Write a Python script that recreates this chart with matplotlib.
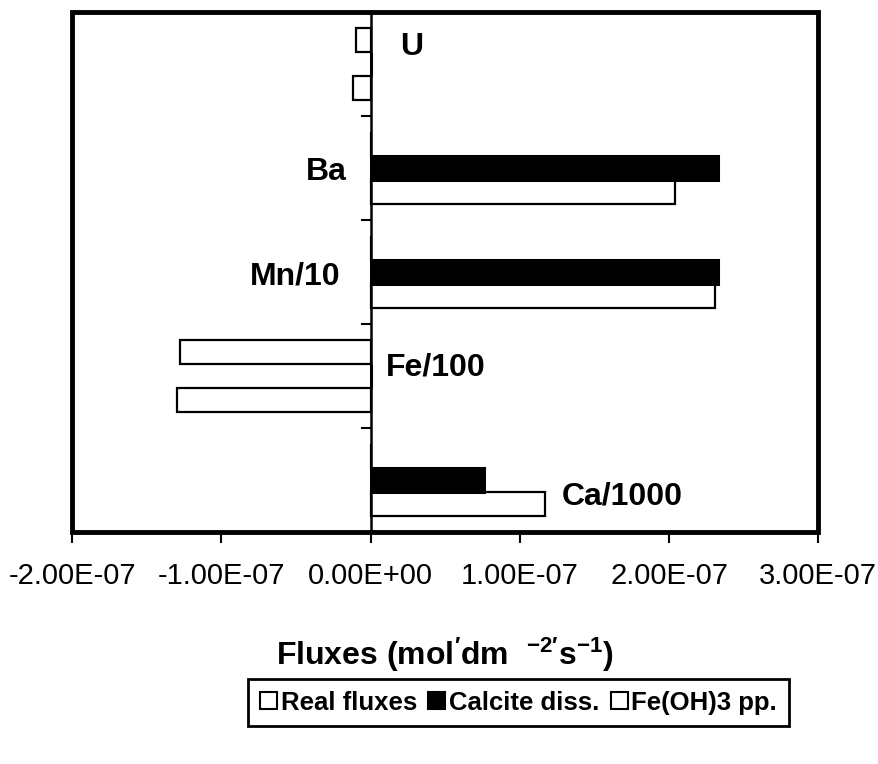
#!/usr/bin/env python3

import matplotlib
matplotlib.use("Agg")
import matplotlib.pyplot as plt
import matplotlib.patches as mpatches
import numpy as np

# categories from bottom to top
CATEGORIES = ["Ca/1000", "Fe/100", "Mn/10", "Ba", "U"]
REAL_FLUXES = [1.17e-7, -1.30e-7, 2.31e-7, 2.04e-7, -1.2e-8]
CALCITE_DISS = [0.76e-7, 0.0, 2.33e-7, 2.33e-7, 0.0]
FEOH3_PP = [0.0, -1.28e-7, 0.0, 0.0, -1.0e-8]
X_TICKS = [-2e-7, -1e-7, 0.0, 1e-7, 2e-7, 3e-7]
X_TICK_LABELS = ["-2.00E-07", "-1.00E-07", "0.00E+00", "1.00E-07", "2.00E-07", "3.00E-07"]

plt.rcParams["font.family"] = ["Liberation Sans", "DejaVu Sans"]
plt.rcParams["mathtext.fontset"] = "custom"
plt.rcParams["mathtext.rm"] = "Liberation Sans:bold"
plt.rcParams["mathtext.it"] = "Liberation Sans:bold"
plt.rcParams["mathtext.bf"] = "Liberation Sans:bold"

fig = plt.figure(figsize=(8.79, 7.64), dpi=100)
ax = fig.add_axes([0.082, 0.304, 0.849, 0.680])

y = np.arange(len(CATEGORIES))
h = 0.23
ax.barh(y - h, REAL_FLUXES, height=h, color="white", edgecolor="black", linewidth=1.6)
ax.barh(y, CALCITE_DISS, height=h, color="black", edgecolor="black", linewidth=2.2)
ax.barh(y + h, FEOH3_PP, height=h, color="white", edgecolor="black", linewidth=1.6)

ax.set_xlim(-2e-7, 3e-7)
ax.set_ylim(-0.5, len(CATEGORIES) - 0.5)

# frame around plot area
ax.add_patch(mpatches.Rectangle((0, 0), 1, 1, transform=ax.transAxes, fill=False,
                                edgecolor="black", linewidth=3.5, clip_on=False, zorder=5))
for s in ["top", "right", "bottom"]:
    ax.spines[s].set_visible(False)
ax.spines["left"].set_position(("data", 0))
ax.spines["left"].set_linewidth(1.8)
ax.spines["left"].set_zorder(4)

ax.set_yticks(y[:-1] + 0.5)
ax.set_yticklabels([])
ax.tick_params(axis="y", direction="out", length=7, width=1.5)

ax.set_xticks(X_TICKS)
ax.set_xticklabels(X_TICK_LABELS)
ax.tick_params(axis="x", direction="out", length=8, width=1.5, labelsize=21, pad=14)

ax.set_xlabel(r"Fluxes (mol$^{\prime}$dm  $^{-2\prime}$s$^{-1}$)", fontsize=23,
              fontweight="bold", labelpad=33)

# category labels placed in the plot
label_pos = {
    "U": (0.2e-7, 4.17, "left"),
    "Ba": (-0.16e-7, 2.96, "right"),
    "Mn/10": (-0.2e-7, 1.96, "right"),
    "Fe/100": (0.1e-7, 1.08, "left"),
    "Ca/1000": (1.28e-7, -0.16, "left"),
}
for name in CATEGORIES:
    xx, yy, ha = label_pos[name]
    ax.text(xx, yy, name, ha=ha, va="center", fontsize=23, fontweight="bold")

handles = [
    mpatches.Patch(facecolor="white", edgecolor="black", linewidth=1.5, label="Real fluxes"),
    mpatches.Patch(facecolor="black", edgecolor="black", linewidth=1.5, label="Calcite diss."),
    mpatches.Patch(facecolor="white", edgecolor="black", linewidth=1.5, label="Fe(OH)3 pp."),
]
leg = fig.legend(handles=handles, loc="center", bbox_to_anchor=(0.59, 0.08), ncol=3,
                 fancybox=False, edgecolor="black", framealpha=1,
                 prop={"size": 18.5, "weight": "bold"}, handlelength=0.65, handleheight=0.65,
                 handletextpad=0.15, columnspacing=0.45, borderpad=0.45, borderaxespad=0)
leg.get_frame().set_linewidth(2)

fig.savefig("out.png", dpi=100)
